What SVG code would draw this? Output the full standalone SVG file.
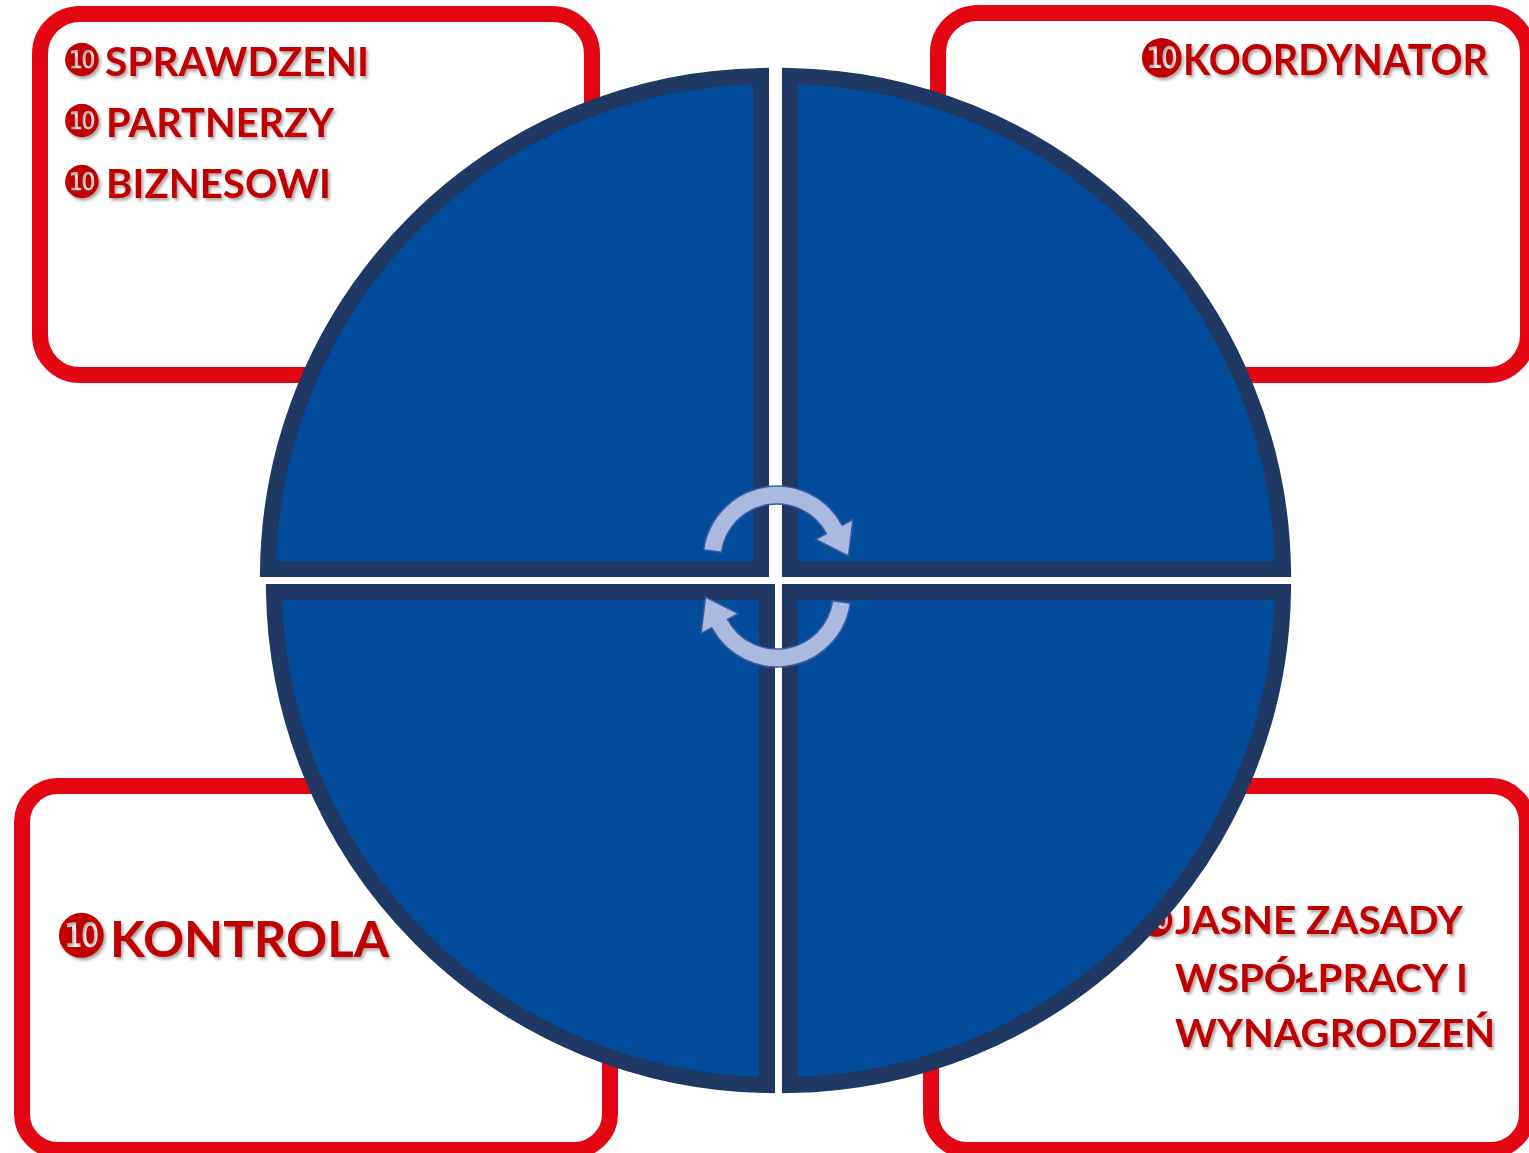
<svg xmlns="http://www.w3.org/2000/svg" width="1529" height="1153" viewBox="0 0 1529 1153">
<style>
.box{fill:#fff;stroke:#E30613;stroke-width:16}
.q{fill:#034C9C;stroke:#203864;stroke-width:16;stroke-linejoin:miter}
.t{font-family:Lato,"Open Sans","Liberation Sans",sans-serif;font-weight:bold;fill:#C00000}
.b{font-family:"DejaVu Sans",sans-serif;fill:#C00000}
.arr{fill:#AAB9E0;stroke:#3A5CA3;stroke-width:1.5}
</style>
<defs>
<filter id="sh" x="-5%" y="-20%" width="115%" height="150%">
<feDropShadow dx="2" dy="2.5" stdDeviation="1.5" flood-color="#000" flood-opacity="0.35"/>
</filter>
</defs>
<rect width="1529" height="1153" fill="#fff"/>
<g id="box-top-left">
<rect class="box" x="40" y="14" width="552" height="361" rx="40"/>
<g filter="url(#sh)">
<text class="b" x="61.5" y="75.5" font-size="45">❿</text>
<text class="t" x="105" y="76" font-size="41" textLength="264" lengthAdjust="spacingAndGlyphs">SPRAWDZENI</text>
<text class="b" x="61.5" y="136.5" font-size="45">❿</text>
<text class="t" x="106" y="137" font-size="41" textLength="228" lengthAdjust="spacingAndGlyphs">PARTNERZY</text>
<text class="b" x="61.5" y="197.5" font-size="45">❿</text>
<text class="t" x="106" y="198" font-size="41" textLength="225" lengthAdjust="spacingAndGlyphs">BIZNESOWI</text>
</g>
</g>
<g id="box-top-right">
<rect class="box" x="938" y="13" width="590" height="362" rx="40"/>
<g filter="url(#sh)">
<text class="b" x="1138" y="77" font-size="53">❿</text>
<text class="t" x="1183" y="75" font-size="42" textLength="305" lengthAdjust="spacingAndGlyphs">KOORDYNATOR</text>
</g>
</g>
<g id="box-bottom-left">
<rect class="box" x="22" y="786" width="588" height="364" rx="36"/>
<g filter="url(#sh)">
<text class="b" x="54.5" y="957" font-size="60">❿</text>
<text class="t" x="110" y="957" font-size="49" textLength="279" lengthAdjust="spacingAndGlyphs">KONTROLA</text>
</g>
</g>
<g id="box-bottom-right">
<rect class="box" x="931" y="786" width="596" height="364" rx="36"/>
<g filter="url(#sh)">
<text class="b" x="1137" y="936" font-size="43">❿</text>
<text class="t" x="1175" y="934" font-size="38" textLength="288" lengthAdjust="spacingAndGlyphs">JASNE ZASADY</text>
<text class="t" x="1175" y="992" font-size="38" textLength="293" lengthAdjust="spacingAndGlyphs">WSPÓŁPRACY I</text>
<text class="t" x="1175" y="1047" font-size="38" textLength="320" lengthAdjust="spacingAndGlyphs">WYNAGRODZEŃ</text>
</g>
</g>
<g id="quadrant-top-left"><path class="q" d="M761 569 L268 569 A501 501 0 0 1 761 76 Z"/></g>
<g id="quadrant-top-right"><path class="q" d="M790 569 L790 76 A501 501 0 0 1 1283 569 Z"/></g>
<g id="quadrant-bottom-left"><path class="q" d="M767 592 L767 1085 A501 501 0 0 1 274 592 Z"/></g>
<g id="quadrant-bottom-right"><path class="q" d="M790 592 L1283 592 A501 501 0 0 1 790 1085 Z"/></g>
<g id="connectors">
<path class="arr" d="M703.7 549.7 A74 74 0 0 1 842.3 525.3 L852.9 519.6 L848.5 556 L815.8 539.3 L826.4 533.7 A56 56 0 0 0 721.5 552.2 Z"/>
<path class="arr" d="M850.3 603.3 A74 74 0 0 1 711.7 627.7 L701.1 633.4 L705.5 597 L738.2 613.7 L727.6 619.3 A56 56 0 0 0 832.5 600.8 Z"/>
</g>
</svg>
